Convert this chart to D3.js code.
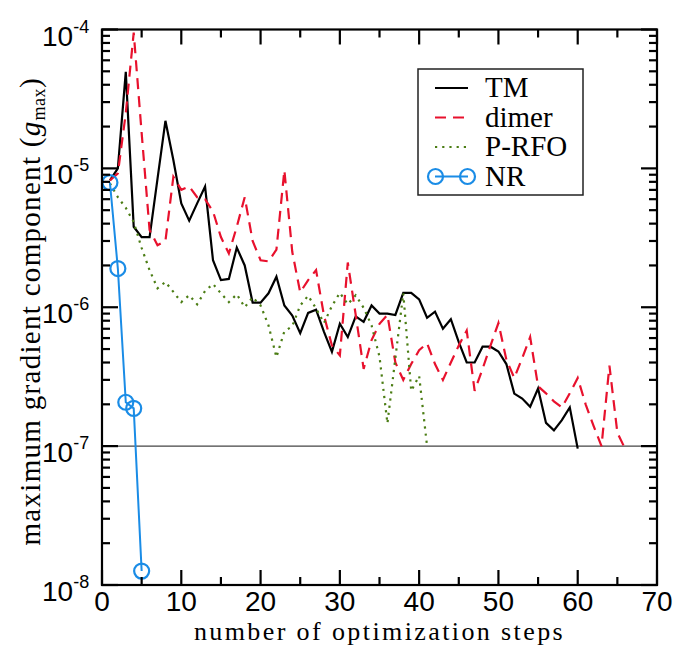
<!DOCTYPE html>
<html>
<head>
<meta charset="utf-8">
<script src="https://cdn.jsdelivr.net/npm/d3@7"></script>
<style>
  body { margin: 0; background: #fff; }
  svg { display: block; }
  .tick-label { font-family: "Liberation Sans", Arial, sans-serif; font-size: 28px; fill: #000; }
  .serif { font-family: "Liberation Serif", "Times New Roman", serif; fill: #000; }
</style>
</head>
<body>
<div id="chart"></div>
<script>
// maximum gradient component per optimization step (steps start at 1)
var tmValues = [8.2e-6, 1.0e-5, 4.95e-5, 3.8e-6, 3.2e-6, 3.2e-6, 8.4e-6, 2.2e-5, 1.15e-5, 5.6e-6,
	4.2e-6, 5.6e-6, 7.4e-6, 2.18e-6, 1.57e-6, 1.6e-6, 2.69e-6, 2.0e-6, 1.08e-6, 1.08e-6,
	1.26e-6, 1.66e-6, 1.03e-6, 8.7e-7, 6.5e-7, 9.1e-7, 9.6e-7, 6.65e-7, 4.77e-7, 7.6e-7,
	6.1e-7, 8.6e-7, 7.85e-7, 1.03e-6, 9.0e-7, 9.0e-7, 8.8e-7, 1.27e-6, 1.27e-6, 1.14e-6,
	8.4e-7, 9.3e-7, 7.0e-7, 8.2e-7, 5.6e-7, 4.0e-7, 4.0e-7, 5.2e-7, 5.2e-7, 4.8e-7,
	3.9e-7, 2.39e-7, 2.2e-7, 1.92e-7, 2.6e-7, 1.47e-7, 1.3e-7, 1.54e-7, 1.9e-7, 9.6e-8];

var dimerValues = [8.2e-6, 9.2e-6, 2.5e-5, 9.5e-5, 1.8e-5, 3.6e-6, 2.8e-6, 3.0e-6, 8.7e-6, 7.0e-6,
	7.4e-6, 6.2e-6, 6.0e-6, 4.9e-6, 3.2e-6, 2.44e-6, 3.8e-6, 6.2e-6, 3.0e-6, 2.18e-6,
	2.14e-6, 2.6e-6, 9.7e-6, 2.5e-6, 1.28e-6, 1.57e-6, 1.85e-6, 8.7e-7, 5.3e-7, 4.5e-7,
	2.1e-6, 8.8e-7, 3.6e-7, 5.8e-7, 7.6e-7, 8.8e-7, 4.0e-7, 3.0e-7, 3.9e-7, 4.9e-7,
	5.5e-7, 3.9e-7, 3.0e-7, 4.0e-7, 5.3e-7, 6.8e-7, 2.5e-7, 3.6e-7, 5.3e-7, 7.7e-7,
	4.2e-7, 3.1e-7, 4.3e-7, 6.1e-7, 2.7e-7, 2.4e-7, 2.1e-7, 1.9e-7, 2.4e-7, 3.1e-7,
	2.0e-7, 1.4e-7, 1.0e-7, 3.8e-7, 1.25e-7, 9.5e-8];

var prfoValues = [7.8e-6, 6.2e-6, 5.2e-6, 4.1e-6, 2.67e-6, 1.85e-6, 1.37e-6, 1.52e-6, 1.29e-6, 1.09e-6,
	1.22e-6, 1.05e-6, 1.31e-6, 1.47e-6, 1.26e-6, 1.09e-6, 1.24e-6, 1.0e-6, 1.18e-6, 1.03e-6,
	7.4e-7, 4.37e-7, 6.7e-7, 7.3e-7, 1.03e-6, 1.21e-6, 9.8e-7, 7.7e-7, 1.02e-6, 1.27e-6,
	1.05e-6, 1.22e-6, 9.9e-7, 7.4e-7, 4.4e-7, 1.46e-7, 4.3e-7, 1.26e-6, 2.5e-7, 3.2e-7,
	1.0e-7];

var nrValues = [7.9e-6, 1.9e-6, 2.07e-7, 1.87e-7, 1.26e-8];

var legendNames = ['TM', 'dimer', 'P-RFO', 'NR'];
var xTicks = [0, 10, 20, 30, 40, 50, 60, 70];
var yDecades = [-8, -7, -6, -5, -4];

// svg container dimensions
var svgWidth = 675,
	svgHeight = 646;

var margin = { top: 29.5, right: 18, bottom: 61, left: 102 };

var width = svgWidth - margin.left - margin.right,
	height = svgHeight - margin.top - margin.bottom;

var svg = d3.select('#chart')
	.append('svg')
	.attr('width', svgWidth)
	.attr('height', svgHeight);

var chartGroup = svg.append('g')
	.attr('transform', `translate(${margin.left},${margin.top})`);

var xScale = d3.scaleLinear().domain([0, 70]).range([0, width]);
var yScale = d3.scaleLog().domain([1e-8, 1e-4]).range([height, 0]);

chartGroup.append('clipPath').attr('id', 'plotClip')
	.append('rect').attr('width', width).attr('height', height);

// reference line at 1e-7
chartGroup.append('line')
	.attr('x1', 0).attr('x2', width)
	.attr('y1', yScale(1e-7)).attr('y2', yScale(1e-7))
	.attr('stroke', '#444').attr('stroke-width', 1.2);

var line = d3.line()
	.x((d, i) => xScale(i + 1))
	.y(d => yScale(d));

var plot = chartGroup.append('g').attr('clip-path', 'url(#plotClip)');

var series = [
	{ values: tmValues, color: '#000', dash: null, width: 2.2 },
	{ values: dimerValues, color: '#e8112d', dash: '11,7', width: 2.2 },
	{ values: prfoValues, color: '#4b7d14', dash: '2.2,5', width: 2.2 },
	{ values: nrValues, color: '#1a8ce6', dash: null, width: 2 }
];

series.forEach(s => {
	plot.append('path')
		.datum(s.values)
		.attr('fill', 'none')
		.attr('stroke', s.color)
		.attr('stroke-width', s.width)
		.attr('stroke-dasharray', s.dash)
		.attr('stroke-linejoin', 'miter')
		.attr('d', line);
});

chartGroup.append('g').selectAll('circle')
	.data(nrValues)
	.enter()
	.append('circle')
	.attr('cx', (d, i) => xScale(i + 1))
	.attr('cy', d => yScale(d))
	.attr('r', 7.5)
	.attr('fill', 'none')
	.attr('stroke', '#1a8ce6')
	.attr('stroke-width', 2.2);

// frame
chartGroup.append('rect')
	.attr('width', width).attr('height', height)
	.attr('fill', 'none').attr('stroke', '#000').attr('stroke-width', 2.2);

// x ticks (bottom + top, pointing inward)
var xMinor = d3.range(5, 70, 10);
var ticks = chartGroup.append('g').attr('stroke', '#000').attr('stroke-width', 2.2);
xTicks.forEach(t => {
	ticks.append('line').attr('x1', xScale(t)).attr('x2', xScale(t)).attr('y1', height).attr('y2', height - 15);
	ticks.append('line').attr('x1', xScale(t)).attr('x2', xScale(t)).attr('y1', 0).attr('y2', 15);
});
xMinor.forEach(t => {
	ticks.append('line').attr('x1', xScale(t)).attr('x2', xScale(t)).attr('y1', height).attr('y2', height - 8);
	ticks.append('line').attr('x1', xScale(t)).attr('x2', xScale(t)).attr('y1', 0).attr('y2', 8);
});

// y ticks (left + right)
yDecades.forEach(e => {
	var v = Math.pow(10, e);
	ticks.append('line').attr('x1', 0).attr('x2', 16).attr('y1', yScale(v)).attr('y2', yScale(v));
	ticks.append('line').attr('x1', width).attr('x2', width - 16).attr('y1', yScale(v)).attr('y2', yScale(v));
	if (e < -4) {
		d3.range(2, 10).forEach(m => {
			var mv = m * v;
			ticks.append('line').attr('x1', 0).attr('x2', 8).attr('y1', yScale(mv)).attr('y2', yScale(mv));
			ticks.append('line').attr('x1', width).attr('x2', width - 8).attr('y1', yScale(mv)).attr('y2', yScale(mv));
		});
	}
});

// x tick labels
chartGroup.append('g').selectAll('text')
	.data(xTicks)
	.enter()
	.append('text')
	.classed('tick-label', true)
	.attr('x', d => xScale(d))
	.attr('y', height + 26)
	.attr('font-size', 27)
	.attr('text-anchor', 'middle')
	.text(d => d);

// y tick labels: 10^e
yDecades.forEach(e => {
	var t = chartGroup.append('text')
		.classed('tick-label', true)
		.attr('x', -60)
		.attr('y', yScale(Math.pow(10, e)) + 16);
	t.append('tspan').text('10');
	t.append('tspan').attr('dy', -13).attr('font-size', 18).text(e);
});

// axis titles
svg.append('text')
	.classed('serif', true)
	.attr('x', margin.left + width / 2)
	.attr('y', 640)
	.attr('text-anchor', 'middle')
	.attr('font-size', 26)
	.attr('letter-spacing', 2.4)
	.text('number of optimization steps');

var yTitle = svg.append('text')
	.classed('serif', true)
	.attr('transform', `translate(40,${margin.top + height / 2 + 4})rotate(-90)`)
	.attr('text-anchor', 'middle')
	.attr('font-size', 29)
	.attr('letter-spacing', 1.3);
yTitle.append('tspan').text('maximum gradient component (');
yTitle.append('tspan').attr('font-style', 'italic').text('g');
yTitle.append('tspan').attr('font-size', 18).attr('dy', 5).attr('letter-spacing', 0.5).text('max');
yTitle.append('tspan').attr('dy', -5).text(')');

// legend
var legend = svg.append('g').attr('transform', 'translate(418,69)');
legend.append('rect')
	.attr('width', 165).attr('height', 126)
	.attr('fill', '#fff').attr('stroke', '#222').attr('stroke-width', 1.5);

legendNames.forEach((name, i) => {
	var s = series[i];
	var ly = 19 + i * 29.5;
	legend.append('line')
		.attr('x1', 17).attr('x2', 50).attr('y1', ly).attr('y2', ly)
		.attr('stroke', s.color).attr('stroke-width', s.width)
		.attr('stroke-dasharray', s.dash);
	if (name === 'NR') {
		[17.5, 49.5].forEach(cx => {
			legend.append('circle').attr('cx', cx).attr('cy', ly).attr('r', 7.5)
				.attr('fill', 'none').attr('stroke', s.color).attr('stroke-width', 2.2);
		});
	}
	legend.append('text')
		.classed('serif', true)
		.attr('x', 67)
		.attr('y', ly + 9)
		.attr('font-size', 29)
		.text(name);
});
</script>
</body>
</html>
